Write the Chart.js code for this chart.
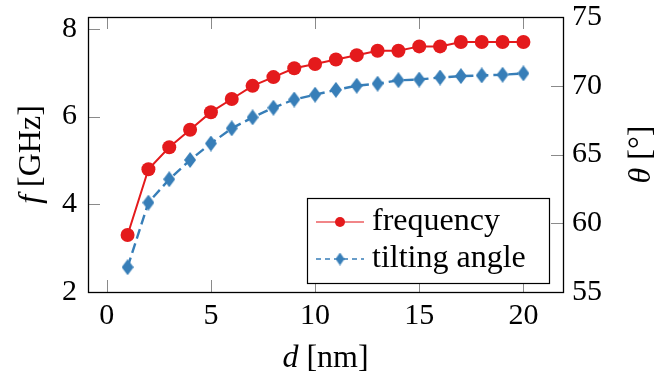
<!DOCTYPE html>
<html>
<head>
<meta charset="utf-8">
<script src="https://cdn.jsdelivr.net/npm/chart.js@4.4.1/dist/chart.umd.min.js"></script>
<style>
html, body { margin: 0; padding: 0; background: #fff; }
</style>
</head>
<body>
<canvas id="chart" width="672" height="380"></canvas>
<script>
// Datos
const thickness = [1, 2, 3, 4, 5, 6, 7, 8, 9, 10, 11, 12, 13, 14, 15, 16, 17, 18, 19, 20];
const frequency = [3.3, 4.8, 5.3, 5.7, 6.1, 6.4, 6.7, 6.9, 7.1, 7.2, 7.3, 7.4, 7.5, 7.5, 7.6, 7.6, 7.7, 7.7, 7.7, 7.7];
const tiltAngle = [56.8, 61.5, 63.2, 64.6, 65.8, 66.9, 67.7, 68.4, 69.0, 69.35, 69.7, 70.0, 70.15, 70.4, 70.45, 70.6, 70.7, 70.75, 70.8, 70.9];
const xTicks = [0, 5, 10, 15, 20];
const freqTicks = [2, 4, 6, 8];
const angleTicks = [55, 60, 65, 70, 75];
const seriesNames = ['frequency', 'tilting angle'];

const RED = '#e41a1c';
const BLUE = '#377eb8';
const FONT = '"Liberation Serif", "DejaVu Serif", serif';

// rombo alargado (diamond* de pgfplots)
function diamond(w, h, color) {
    const c = document.createElement('canvas');
    c.width = w; c.height = h;
    const g = c.getContext('2d');
    g.fillStyle = color;
    g.beginPath();
    g.moveTo(w / 2, 0);
    g.lineTo(w, h / 2);
    g.lineTo(w / 2, h);
    g.lineTo(0, h / 2);
    g.closePath();
    g.fill();
    return c;
}
const bigDiamond = diamond(12, 16, BLUE);
const smallDiamond = diamond(9, 13, BLUE);

// texto con partes en cursiva (f, θ, d)
function drawMixed(ctx, parts, x, y, rot) {
    ctx.save();
    ctx.translate(x, y);
    ctx.rotate(rot);
    ctx.textBaseline = 'middle';
    ctx.textAlign = 'left';
    let w = 0;
    parts.forEach(p => {
        ctx.font = (p.it ? 'italic ' : '') + '32px ' + FONT;
        p.w = ctx.measureText(p.t).width;
        w += p.w;
    });
    let cx = -w / 2;
    parts.forEach(p => {
        ctx.font = (p.it ? 'italic ' : '') + '32px ' + FONT;
        ctx.fillStyle = '#000';
        ctx.fillText(p.t, cx, 0);
        cx += p.w;
    });
    ctx.restore();
}

const axisFrame = {
    id: 'axisFrame',
    beforeDatasetsDraw(chart) {
        const { ctx, chartArea: a, scales } = chart;
        const len = 12;
        ctx.save();
        ctx.strokeStyle = '#8a8a8a';
        ctx.lineWidth = 1;
        ctx.beginPath();
        xTicks.forEach(v => {
            const px = Math.round(scales.x.getPixelForValue(v)) + 0.5;
            ctx.moveTo(px, a.bottom); ctx.lineTo(px, a.bottom - len);
            ctx.moveTo(px, a.top); ctx.lineTo(px, a.top + len);
        });
        freqTicks.forEach(v => {
            const py = Math.round(scales.y.getPixelForValue(v)) + 0.5;
            ctx.moveTo(a.left, py); ctx.lineTo(a.left + len, py);
        });
        angleTicks.forEach(v => {
            const py = Math.round(scales.y2.getPixelForValue(v)) + 0.5;
            ctx.moveTo(a.right, py); ctx.lineTo(a.right - len, py);
        });
        ctx.stroke();
        ctx.restore();
    },
    afterDraw(chart) {
        const { ctx, chartArea: a } = chart;
        ctx.save();
        // marco
        ctx.strokeStyle = '#000';
        ctx.lineWidth = 1.3;
        ctx.strokeRect(Math.round(a.left) + 0.5, Math.round(a.top) + 0.5,
            Math.round(a.right - a.left), Math.round(a.bottom - a.top));

        // leyenda
        const bx = a.right - 256, by = a.bottom - 94, bw = 242, bh = 85;
        ctx.fillStyle = '#fff';
        ctx.fillRect(bx, by, bw, bh);
        ctx.lineWidth = 1.2;
        ctx.strokeRect(bx + 0.5, by + 0.5, bw, bh);
        const rows = [
            { line: 'rgba(228,26,28,0.7)', dash: [], style: 'circle', r: 5, y: by + 24 },
            { line: BLUE, dash: [5, 4], style: smallDiamond, r: 5, y: by + 61 }
        ];
        rows.forEach((row, i) => {
            ctx.strokeStyle = row.line;
            ctx.lineWidth = 1.6;
            ctx.setLineDash(row.dash);
            ctx.beginPath();
            ctx.moveTo(bx + 9, row.y);
            ctx.lineTo(bx + 57, row.y);
            ctx.stroke();
            ctx.setLineDash([]);
            ctx.fillStyle = RED;
            Chart.helpers.drawPoint(ctx, { pointStyle: row.style, radius: row.r, rotation: 0, borderWidth: 0 }, bx + 33, row.y);
            ctx.fillStyle = '#000';
            ctx.font = '32px ' + FONT;
            ctx.textBaseline = 'middle';
            ctx.textAlign = 'left';
            ctx.fillText(seriesNames[i], bx + 65, row.y);
        });

        // títulos de ejes
        const midY = (a.top + a.bottom) / 2;
        drawMixed(ctx, [{ t: 'd', it: true }, { t: ' [nm]' }], (a.left + a.right) / 2, 359, 0);
        drawMixed(ctx, [{ t: 'f', it: true }, { t: ' [GHz]' }], 32, midY, -Math.PI / 2);
        drawMixed(ctx, [{ t: 'θ', it: true }, { t: ' [°]' }], 642, midY, -Math.PI / 2);
        ctx.restore();
    }
};

function fixTicks(values) {
    return function (scale) {
        scale.ticks = values.map(v => ({ value: v }));
    };
}

new Chart(document.getElementById('chart'), {
    type: 'line',
    data: {
        labels: thickness,
        datasets: [
            {
                label: seriesNames[0],
                data: thickness.map((d, i) => ({ x: d, y: frequency[i] })),
                yAxisID: 'y',
                borderColor: RED,
                backgroundColor: RED,
                borderWidth: 2,
                pointStyle: 'circle',
                pointRadius: 7,
                pointBorderWidth: 0,
                tension: 0
            },
            {
                label: seriesNames[1],
                data: thickness.map((d, i) => ({ x: d, y: tiltAngle[i] })),
                yAxisID: 'y2',
                borderColor: BLUE,
                backgroundColor: BLUE,
                borderWidth: 2.4,
                borderDash: [10, 5],
                pointStyle: bigDiamond,
                pointRadius: 7,
                pointBorderWidth: 0,
                tension: 0
            }
        ]
    },
    options: {
        responsive: false,
        animation: false,
        layout: { padding: { top: 17, left: 0, right: 0, bottom: 0 } },
        plugins: {
            legend: { display: false },
            tooltip: { enabled: false }
        },
        scales: {
            x: {
                type: 'linear',
                min: -0.9,
                max: 21.9,
                afterBuildTicks: fixTicks(xTicks),
                afterFit: s => { s.height = 88; s.paddingLeft = 0; s.paddingRight = 0; },
                grid: { display: false, drawTicks: false },
                border: { display: false },
                ticks: { color: '#000', padding: 6, maxRotation: 0, font: { family: FONT, size: 30 } }
            },
            y: {
                position: 'left',
                min: 2,
                max: 8.27,
                afterBuildTicks: fixTicks(freqTicks),
                afterFit: s => { s.width = 88; s.paddingTop = 0; s.paddingBottom = 0; },
                grid: { display: false, drawTicks: false },
                border: { display: false },
                ticks: { color: '#000', padding: 11, font: { family: FONT, size: 30 } }
            },
            y2: {
                position: 'right',
                min: 55,
                max: 75,
                afterBuildTicks: fixTicks(angleTicks),
                afterFit: s => { s.width = 109; s.paddingTop = 0; s.paddingBottom = 0; },
                grid: { display: false, drawTicks: false },
                border: { display: false },
                ticks: { color: '#000', padding: 9, font: { family: FONT, size: 30 } }
            }
        }
    },
    plugins: [axisFrame]
});
</script>
</body>
</html>
